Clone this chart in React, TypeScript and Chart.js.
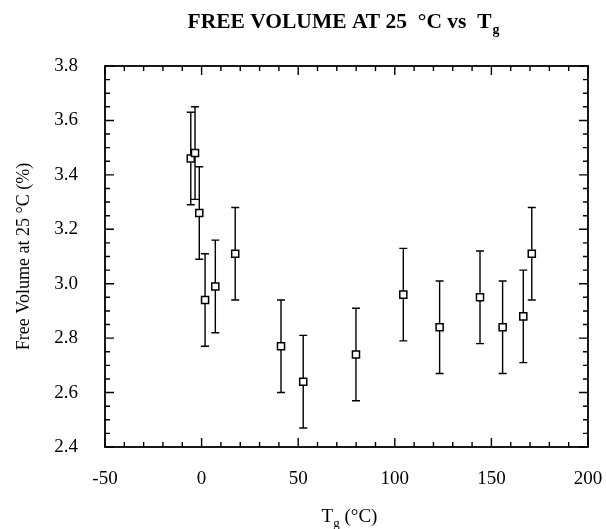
import React, { useEffect, useRef } from "react";
import { Chart, registerables } from "chart.js";

Chart.register(...registerables);

const tgValues = [-5.6, -3.4, -1.2, 1.8, 7.1, 17.4, 41.1, 52.6, 79.9, 104.4, 123.2, 144.1, 155.8, 166.5, 170.9];
const freeVolume = [3.46, 3.48, 3.26, 2.94, 2.99, 3.11, 2.77, 2.64, 2.74, 2.96, 2.84, 2.95, 2.84, 2.88, 3.11];
const errors = [0.17, 0.17, 0.17, 0.17, 0.17, 0.17, 0.17, 0.17, 0.17, 0.17, 0.17, 0.17, 0.17, 0.17, 0.17];
const xTickValues = [-50, 0, 50, 100, 150, 200];
const yTickValues = [2.4, 2.6, 2.8, 3.0, 3.2, 3.4, 3.6, 3.8];
const xMinorStep = 10;
const yMinorStep = 0.05;

const FONT = "'Liberation Serif', 'DejaVu Serif', serif";

const framePlugin = {
  id: "framePlugin",
  beforeDatasetsDraw(chart: any) {
    const ctx = chart.ctx;
    const xs = chart.scales.x;
    const ys = chart.scales.y;
    ctx.save();
    ctx.strokeStyle = "#000";
    ctx.lineWidth = 1.4;
    freeVolume.forEach((v, i) => {
      const px = xs.getPixelForValue(tgValues[i]);
      const top = ys.getPixelForValue(v + errors[i]);
      const bot = ys.getPixelForValue(v - errors[i]);
      ctx.beginPath();
      ctx.moveTo(px, top);
      ctx.lineTo(px, bot);
      ctx.moveTo(px - 4, top);
      ctx.lineTo(px + 4, top);
      ctx.moveTo(px - 4, bot);
      ctx.lineTo(px + 4, bot);
      ctx.stroke();
    });
    ctx.restore();
  },
  afterDraw(chart: any) {
    const ctx = chart.ctx;
    const a = chart.chartArea;
    const xs = chart.scales.x;
    const ys = chart.scales.y;
    ctx.save();
    ctx.strokeStyle = "#000";
    ctx.lineWidth = 1.8;
    ctx.strokeRect(a.left, a.top, a.right - a.left, a.bottom - a.top);
    ctx.lineWidth = 1.4;
    ctx.beginPath();
    const xMin = xTickValues[0];
    const xMax = xTickValues[xTickValues.length - 1];
    const nx = Math.round((xMax - xMin) / xMinorStep);
    for (let k = 0; k <= nx; k++) {
      const v = xMin + k * xMinorStep;
      const major = xTickValues.some((t) => Math.abs(t - v) < 1e-6);
      const len = major ? 9 : 5;
      const px = xs.getPixelForValue(v);
      ctx.moveTo(px, a.bottom);
      ctx.lineTo(px, a.bottom - len);
      ctx.moveTo(px, a.top);
      ctx.lineTo(px, a.top + len);
    }
    const yMin = yTickValues[0];
    const yMax = yTickValues[yTickValues.length - 1];
    const ny = Math.round((yMax - yMin) / yMinorStep);
    for (let k = 0; k <= ny; k++) {
      const v = yMin + k * yMinorStep;
      const major = yTickValues.some((t) => Math.abs(t - v) < 1e-6);
      const len = major ? 9 : 5;
      const py = ys.getPixelForValue(v);
      ctx.moveTo(a.left, py);
      ctx.lineTo(a.left + len, py);
      ctx.moveTo(a.right, py);
      ctx.lineTo(a.right - len, py);
    }
    ctx.stroke();

    // Title with subscript
    ctx.fillStyle = "#000";
    ctx.textBaseline = "alphabetic";
    ctx.textAlign = "left";
    const main = "FREE VOLUME AT 25  \u00B0C vs  T";
    ctx.font = `bold 21.5px ${FONT}`;
    const mw = ctx.measureText(main).width;
    ctx.font = `bold 14px ${FONT}`;
    const sw = ctx.measureText("g").width;
    const tx = 343 - (mw + sw) / 2;
    ctx.font = `bold 21.5px ${FONT}`;
    ctx.fillText(main, tx, 28);
    ctx.font = `bold 14px ${FONT}`;
    ctx.fillText("g", tx + mw + 1, 34);

    // X axis title with subscript
    ctx.font = `19px ${FONT}`;
    const t1 = "T";
    const t2 = " (\u00B0C)";
    const w1 = ctx.measureText(t1).width;
    const w2 = ctx.measureText(t2).width;
    ctx.font = `13px ${FONT}`;
    const wg = ctx.measureText("g").width;
    const cx = (a.left + a.right) / 2 + 3;
    const sx = cx - (w1 + wg + w2) / 2;
    ctx.font = `19px ${FONT}`;
    ctx.fillText(t1, sx, 522);
    ctx.font = `13px ${FONT}`;
    ctx.fillText("g", sx + w1, 527);
    ctx.font = `19px ${FONT}`;
    ctx.fillText(t2, sx + w1 + wg, 522);
    ctx.restore();
  },
};

export default function App() {
  const canvasRef = useRef<HTMLCanvasElement | null>(null);

  useEffect(() => {
    if (!canvasRef.current) return;
    const points = tgValues.map((x, i) => ({ x, y: freeVolume[i] }));
    const chart = new Chart(canvasRef.current, {
      type: "scatter",
      data: {
        datasets: [
          {
            label: "Free volume",
            data: points,
            pointStyle: "rect",
            pointRadius: 5,
            pointBorderWidth: 1.5,
            pointBackgroundColor: "#fff",
            pointBorderColor: "#000",
          },
        ],
      },
      options: {
        responsive: false,
        animation: false,
        layout: { padding: { top: 66, right: 18, left: 0, bottom: 0 } },
        plugins: {
          legend: { display: false },
          title: { display: false },
          tooltip: { enabled: false },
        },
        scales: {
          x: {
            type: "linear",
            min: -50,
            max: 200,
            afterFit: (s: any) => {
              s.height = 82;
              s.paddingLeft = 0;
              s.paddingRight = 0;
            },
            afterBuildTicks: (s: any) => {
              s.ticks = xTickValues.map((v) => ({ value: v }));
            },
            grid: { display: false, drawTicks: false },
            border: { display: false },
            ticks: {
              padding: 21,
              color: "#000",
              font: { family: FONT, size: 19 },
              callback: (v: any) => String(v),
            },
          },
          y: {
            type: "linear",
            min: 2.4,
            max: 3.8,
            afterFit: (s: any) => {
              s.width = 105;
              s.paddingTop = 0;
              s.paddingBottom = 0;
            },
            afterBuildTicks: (s: any) => {
              s.ticks = yTickValues.map((v) => ({ value: v }));
            },
            grid: { display: false, drawTicks: false },
            border: { display: false },
            ticks: {
              padding: 27,
              color: "#000",
              font: { family: FONT, size: 19 },
              callback: (v: any) => Number(v).toFixed(1),
            },
            title: {
              display: true,
              text: "Free Volume at 25 \u00B0C (%)",
              color: "#000",
              font: { family: FONT, size: 18 },
              padding: { top: 13, bottom: 0 },
            },
          },
        },
      },
      plugins: [framePlugin],
    });
    return () => chart.destroy();
  }, []);

  return (
    <div style={{ position: "absolute", left: 0, top: 0, width: 606, height: 529, background: "#fff" }}>
      <canvas ref={canvasRef} width={606} height={529} />
    </div>
  );
}
